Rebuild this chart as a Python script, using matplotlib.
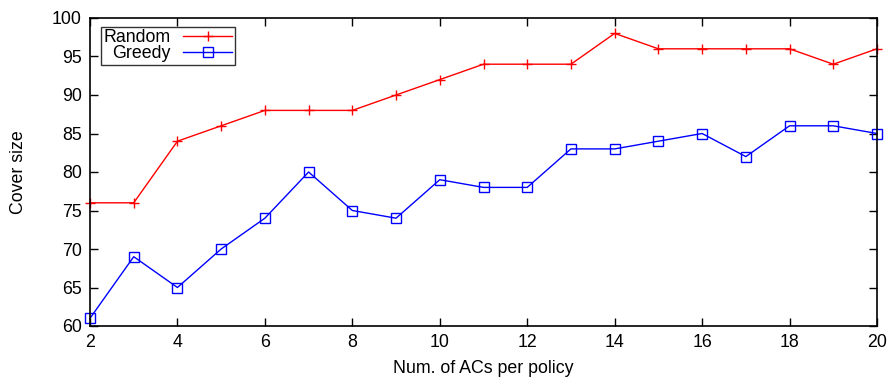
import matplotlib

matplotlib.use("Agg")
import matplotlib.pyplot as plt  # noqa: E402

plt.rcParams["font.family"] = ["Liberation Sans", "DejaVu Sans"]

x = list(range(2, 21))
random_cover = [76, 76, 84, 86, 88, 88, 88, 90, 92, 94, 94, 94, 98, 96, 96, 96, 96, 94, 96]
greedy_cover = [61, 69, 65, 70, 74, 80, 75, 74, 79, 78, 78, 83, 83, 84, 85, 82, 86, 86, 85]

FS = 12.8

fig = plt.figure(figsize=(8.9, 3.81), dpi=100)
ax = fig.add_axes([90 / 890, 55 / 381, 787 / 890, 308 / 381])

ax.plot(x, random_cover, color="#ff0000", lw=1, marker="+", ms=7, mew=1,
        label="Random", clip_on=False)
ax.plot(x, greedy_cover, color="#0000ff", lw=1, marker="s", ms=6.5, mew=1,
        mfc="none", label="Greedy", clip_on=False)

ax.set_xlim(2, 20)
ax.set_ylim(60, 100)
ax.set_xticks(range(2, 21, 2))
ax.set_yticks(range(60, 101, 5))
ax.tick_params(direction="in", top=True, right=True, length=6, width=1,
               labelsize=FS, pad=6)
for s in ax.spines.values():
    s.set_linewidth(1.2)

ax.set_xlabel("Num. of ACs per policy", fontsize=FS)
ax.set_ylabel("Cover size", fontsize=FS)
ax.xaxis.set_label_coords(0.5, -0.112)
ax.yaxis.set_label_coords(-0.08, 0.5)

leg = ax.legend(loc="upper left", bbox_to_anchor=(0.014, 0.972), fontsize=FS,
                markerfirst=False, frameon=True, fancybox=False,
                borderaxespad=0, handlelength=2.8, handletextpad=0.67,
                labelspacing=-0.05, borderpad=0.15)
leg.get_frame().set_edgecolor("black")
leg.get_frame().set_linewidth(1)
for t in leg.get_texts():
    t.set_ha("right")

fig.savefig("out.png", dpi=100)
